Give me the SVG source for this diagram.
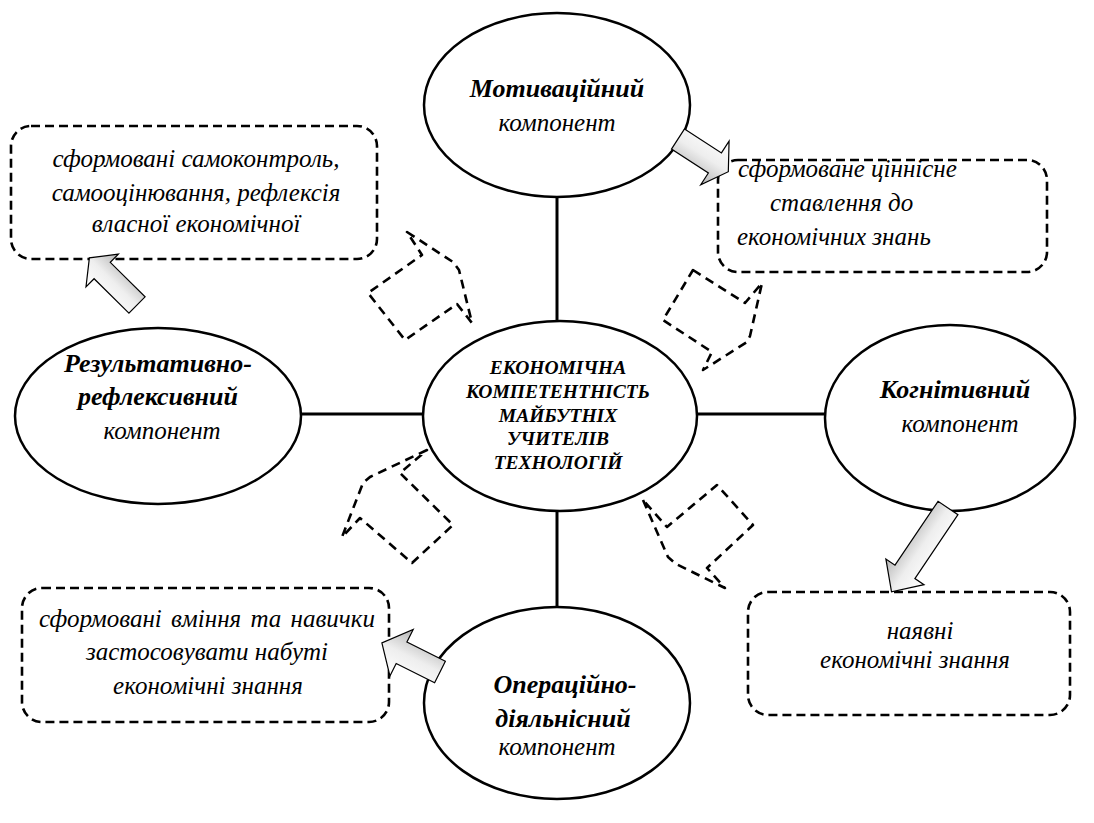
<svg xmlns="http://www.w3.org/2000/svg" width="1094" height="823" viewBox="0 0 1094 823">
<style>
.ell{fill:#fff;stroke:#000;stroke-width:2.5}
.box{fill:#fff;stroke:#000;stroke-width:2.6;stroke-dasharray:9 5}
.dash{fill:none;stroke:#000;stroke-width:2.6;stroke-dasharray:9 6;stroke-linejoin:round}
.con{stroke:#000;stroke-width:3}
.blk{fill:url(#g);stroke:#000;stroke-width:1.2;stroke-linejoin:miter}
text{font-family:"Liberation Serif","Times New Roman",serif;font-style:italic;font-size:25px;fill:#000}
.b{font-weight:bold;font-size:26px}
.c{text-anchor:middle}
.ctr{font-weight:bold;font-size:19.5px;text-anchor:middle}
</style>
<defs>
<linearGradient id="g" x1="0" y1="0" x2="0" y2="1">
<stop offset="0" stop-color="#ffffff"/>
<stop offset="0.5" stop-color="#eeeeee"/>
<stop offset="1" stop-color="#b5b5b5"/>
</linearGradient>
</defs>
<rect width="1094" height="823" fill="#fff"/>

<g id="connectors">
<line class="con" x1="557" y1="197" x2="557" y2="322"/>
<line class="con" x1="300" y1="414" x2="424" y2="414"/>
<line class="con" x1="696" y1="414" x2="826" y2="414"/>
<line class="con" x1="557" y1="510" x2="557" y2="608"/>
</g>

<g id="box-tl">
<rect class="box" x="11" y="126" width="366" height="133" rx="20"/>
<text class="c" x="196" y="167">сформовані самоконтроль,</text>
<text class="c" x="196" y="201">самооцінювання, рефлексія</text>
<text class="c" x="196" y="232">власної економічної</text>
</g>
<g id="box-tr">
<rect class="box" x="718" y="160" width="329" height="112" rx="20"/>
<text x="738" y="177">сформоване ціннісне</text>
<text x="770" y="211">ставлення до</text>
<text x="737" y="245">економічних знань</text>
</g>
<g id="box-bl">
<rect class="box" x="22" y="588" width="367" height="134" rx="20"/>
<text class="c" x="207" y="627" word-spacing="3">сформовані вміння та навички</text>
<text class="c" x="207" y="660">застосовувати набуті</text>
<text class="c" x="208" y="694">економічні знання</text>
</g>
<g id="box-br">
<rect class="box" x="748" y="592" width="322" height="123" rx="20"/>
<text class="c" x="920" y="639">наявні</text>
<text class="c" x="915" y="668">економічні знання</text>
</g>

<g id="dashed-arrows">
<path class="dash" d="M407,232 L453,262 L459,270 L472,323 L457,304 L405,340 L368,293 L422,255 Z"/>
<path class="dash" d="M693,270 L745,303 L762,283 L750,336 L747,342 L703,370 L712,352 L663,320 Z"/>
<path class="dash" d="M427,450 L370,477 L363,483 L342,537 L360,518 L412,563 L453,525 L400,473 Z"/>
<path class="dash" d="M643,500 L668,557 L676,564 L725,588 L707,568 L753,525 L717,485 L667,527 Z"/>
</g>

<g id="node-top">
<ellipse class="ell" cx="557" cy="105" rx="133" ry="92"/>
<text class="b c" x="557" y="97">Мотиваційний</text>
<text class="c" x="557" y="131">компонент</text>
</g>
<g id="node-left">
<ellipse class="ell" cx="158" cy="416" rx="143" ry="88"/>
<text class="b c" x="158" y="372">Результативно-</text>
<text class="b c" x="158" y="405">рефлексивний</text>
<text class="c" x="162" y="439">компонент</text>
</g>
<g id="node-right">
<ellipse class="ell" cx="950" cy="418" rx="125" ry="93"/>
<text class="b c" x="955" y="398">Когнітивний</text>
<text class="c" x="960" y="432">компонент</text>
</g>
<g id="node-bottom">
<ellipse class="ell" cx="557" cy="703" rx="133" ry="96"/>
<text class="b c" x="565" y="693">Операційно-</text>
<text class="b c" x="563" y="727">діяльнісний</text>
<text class="c" x="557" y="755">компонент</text>
</g>
<g id="node-center">
<ellipse class="ell" cx="560" cy="416" rx="137" ry="95"/>
<text class="ctr" x="558" y="374">ЕКОНОМІЧНА</text>
<text class="ctr" x="558" y="398">КОМПЕТЕНТНІСТЬ</text>
<text class="ctr" x="558" y="422">МАЙБУТНІХ</text>
<text class="ctr" x="558" y="445">УЧИТЕЛІВ</text>
<text class="ctr" x="558" y="469">ТЕХНОЛОГІЙ</text>
</g>

<g id="block-arrows">
<path class="blk" transform="translate(678,139) rotate(33)" d="M0,-12 L44,-12 L44,-26 L60,0 L44,26 L44,12 L0,12 Z"/>
<path class="blk" transform="translate(137,305) rotate(-135.3)" d="M0,-11.5 L49,-11.5 L49,-23 L67,0 L49,23 L49,11.5 L0,11.5 Z"/>
<path class="blk" transform="translate(948,508) rotate(124)" d="M0,-12 L77,-12 L77,-23 L101,0 L77,23 L77,12 L0,12 Z"/>
<path class="blk" transform="translate(440,672) rotate(-153.4)" d="M0,-12 L43,-12 L43,-26 L65,0 L43,26 L43,12 L0,12 Z"/>
</g>
</svg>
